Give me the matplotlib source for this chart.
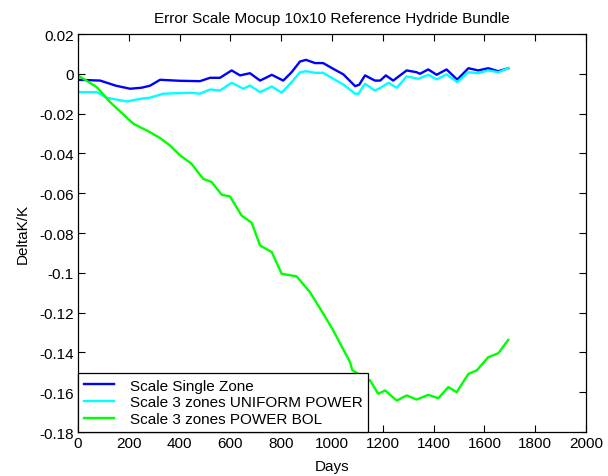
import matplotlib
matplotlib.use('Agg')
import matplotlib.pyplot as plt

# Delta k/k error vs burnup days for the three Scale models
days_single = [0, 87, 150, 205, 250, 283, 323, 400, 480, 520, 559, 605, 638, 677,
               717, 763, 808, 841, 874, 898, 933, 965, 1005, 1045, 1091, 1107, 1130,
               1169, 1190, 1212, 1241, 1294, 1333, 1346, 1379, 1412, 1451, 1493, 1537,
               1576, 1615, 1655, 1694]
err_single = [-0.003, -0.0034, -0.006, -0.0075, -0.007, -0.006, -0.003, -0.0035, -0.0037,
              -0.002, -0.002, 0.0017, -0.0008, 0.0003, -0.0034, -0.0005, -0.0034, 0.0008,
              0.0062, 0.007, 0.0054, 0.0054, 0.0025, -0.0003, -0.0062, -0.0055, -0.0008,
              -0.0034, -0.0034, -0.0008, -0.0034, 0.0017, 0.0008, 0.0, 0.0022, -0.0005,
              0.0022, -0.0029, 0.0028, 0.0017, 0.0028, 0.0013, 0.0028]

days_uniform = [0, 74, 113, 192, 244, 283, 336, 441, 480, 520, 559, 605, 651, 677, 717,
                763, 802, 841, 874, 900, 933, 965, 1005, 1045, 1091, 1104, 1130, 1169,
                1189, 1222, 1255, 1294, 1340, 1379, 1412, 1451, 1493, 1537, 1576, 1615,
                1655, 1694]
err_uniform = [-0.0092, -0.0092, -0.012, -0.0139, -0.0126, -0.012, -0.010, -0.0095, -0.010,
               -0.0079, -0.0084, -0.0045, -0.0075, -0.0059, -0.0092, -0.0064, -0.0095,
               -0.0042, 0.0008, 0.0013, 0.0005, 0.0005, -0.0025, -0.0054, -0.010, -0.010,
               -0.005, -0.0084, -0.0072, -0.0045, -0.007, -0.0013, -0.0025, -0.0005,
               -0.0028, -0.0003, -0.0042, 0.0008, 0.0003, 0.0017, 0.0008, 0.0028]

days_bol = [0, 74, 126, 218, 283, 323, 362, 402, 447, 493, 526, 566, 598, 644, 684, 717,
            763, 802, 861, 913, 966, 1005, 1071, 1080, 1150, 1182, 1209, 1255, 1294, 1333,
            1379, 1419, 1458, 1491, 1537, 1570, 1615, 1655, 1694]
err_bol = [-0.0008, -0.0067, -0.0142, -0.0251, -0.0293, -0.0323, -0.036, -0.041, -0.0452,
           -0.0528, -0.0544, -0.0608, -0.0616, -0.0712, -0.0749, -0.0863, -0.0896, -0.1005,
           -0.1018, -0.1097, -0.1206, -0.129, -0.1449, -0.149, -0.1541, -0.1608, -0.1591,
           -0.1642, -0.1616, -0.1637, -0.1613, -0.163, -0.1574, -0.16, -0.1508, -0.149,
           -0.1424, -0.1404, -0.1337]

labels = ['Scale Single Zone', 'Scale 3 zones UNIFORM POWER', 'Scale 3 zones POWER BOL']

plt.rcParams['font.family'] = ['Liberation Sans', 'DejaVu Sans']
plt.rcParams['font.size'] = 11

fig = plt.figure(figsize=(6.08, 4.77), dpi=100)
ax = fig.add_axes([0.1283, 0.0922, 0.8355, 0.8344])

ax.plot(days_single, err_single, color='#0000ff', lw=1.7, label=labels[0])
ax.plot(days_uniform, err_uniform, color='#00ffff', lw=1.7, label=labels[1])
ax.plot(days_bol, err_bol, color='#00ff00', lw=1.7, label=labels[2])

ax.set_xlim(0, 2000)
ax.set_ylim(-0.18, 0.02)
ax.set_xticks(range(0, 2001, 200))
ax.set_yticks([0.02, 0, -0.02, -0.04, -0.06, -0.08, -0.1, -0.12, -0.14, -0.16, -0.18])
ax.set_yticklabels(['0.02', '0', '-0.02', '-0.04', '-0.06', '-0.08', '-0.1', '-0.12',
                    '-0.14', '-0.16', '-0.18'])
ax.tick_params(direction='in', top=True, right=True, length=5, width=0.8, pad=3,
               labelsize=11)
for sp in ax.spines.values():
    sp.set_linewidth(0.9)

ax.set_title('Error Scale Mocup 10x10 Reference Hydride Bundle', fontsize=11, pad=9)
ax.set_xlabel('Days', fontsize=11, labelpad=6)
ax.set_ylabel('DeltaK/K', fontsize=11, labelpad=7)

leg = ax.legend(loc='lower left', borderaxespad=0, fancybox=False, framealpha=1,
                edgecolor='black', handlelength=2.0, labelspacing=0.18,
                borderpad=0.38, handletextpad=1.0, fontsize=11)
leg.get_frame().set_linewidth(0.9)

fig.savefig('out.png', dpi=100)
